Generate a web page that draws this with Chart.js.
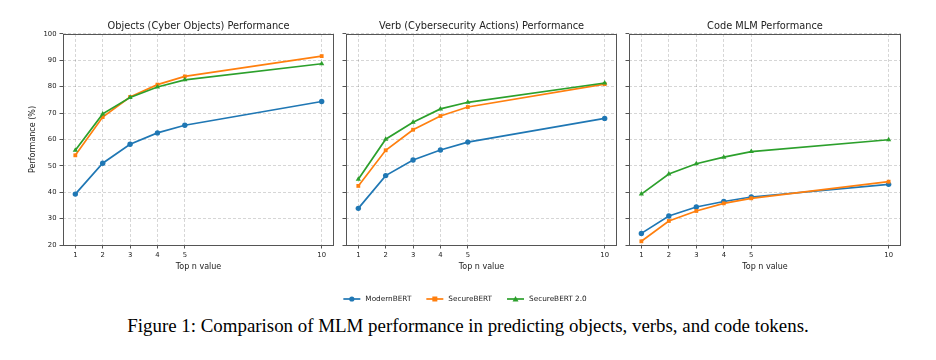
<!DOCTYPE html>
<html>
<head>
<meta charset="utf-8">
<script src="https://cdn.jsdelivr.net/npm/chart.js@4.4.1/dist/chart.umd.min.js"></script>
<style>
  body { margin: 0; background: #fff; width: 936px; height: 360px; position: relative; overflow: hidden; }
  canvas { position: absolute; top: 0; }
  #caption { position: absolute; top: 315px; left: 0; width: 936px; text-align: center;
             font-family: "Liberation Serif"; font-size: 18.9px; color: #000; }
</style>
</head>
<body>
<canvas id="objects" width="340" height="273" style="left:0px"></canvas>
<canvas id="verbs" width="282" height="273" style="left:341px"></canvas>
<canvas id="code" width="283" height="273" style="left:624px"></canvas>
<canvas id="legend" width="936" height="28" style="left:0px; top:285px"></canvas>
<div id="caption">Figure 1: Comparison of MLM performance in predicting objects, verbs, and code tokens.</div>
<script>
const topN = [1, 2, 3, 4, 5, 10];
const yTicks = [20, 30, 40, 50, 60, 70, 80, 90, 100];
const seriesNames = ['ModernBERT', 'SecureBERT', 'SecureBERT 2.0'];

const objModern  = [39.3, 51.0, 58.2, 62.5, 65.4, 74.4];
const objSecure  = [54.0, 68.5, 76.1, 80.8, 83.9, 91.6];
const objSecure2 = [55.9, 69.7, 75.9, 79.9, 82.6, 88.7];

const verbModern  = [33.9, 46.3, 52.2, 56.0, 59.0, 68.0];
const verbSecure  = [42.4, 55.9, 63.7, 68.9, 72.3, 81.0];
const verbSecure2 = [44.9, 60.1, 66.5, 71.6, 74.1, 81.4];

const codeModern  = [24.4, 31.0, 34.4, 36.5, 38.2, 43.0];
const codeSecure  = [21.4, 29.1, 32.9, 35.8, 37.7, 44.0];
const codeSecure2 = [39.3, 46.9, 50.8, 53.3, 55.4, 59.9];

const colors = ['#1f77b4', '#ff7f0e', '#2ca02c'];
const markers = ['circle', 'rect', 'triangle'];

// box round the plot area, like matplotlib spines
const frame = {
  id: 'frame',
  afterDraw(chart) {
    const a = chart.chartArea, c = chart.ctx;
    c.save();
    c.strokeStyle = '#555';
    c.lineWidth = 1;
    c.strokeRect(Math.round(a.left) + 0.5, Math.round(a.top) + 0.5,
                 Math.round(a.right - a.left) - 1, Math.round(a.bottom - a.top));
    c.restore();
  }
};

function makeSets(values) {
  return values.map((v, i) => ({
    label: seriesNames[i],
    data: v.map((y, j) => ({ x: topN[j], y: y })),
    borderColor: colors[i],
    backgroundColor: colors[i],
    borderWidth: 1.7,
    pointStyle: markers[i],
    pointRadius: i == 2 ? 3 : 2.7,
    pointBorderWidth: 0,
    order: 3 - i
  }));
}

function panel(id, title, values, first) {
  new Chart(document.getElementById(id), {
    type: 'line',
    data: { datasets: makeSets(values) },
    plugins: [frame],
    options: {
      responsive: false,
      animation: false,
      layout: { padding: { left: first ? 24 : 0, right: 6, top: 0, bottom: 0 } },
      plugins: {
        legend: { display: false },
        tooltip: { enabled: false },
        title: {
          display: true, text: title, fullSize: false, color: '#222',
          font: { family: 'DejaVu Sans', size: 9.8, weight: 'normal' },
          padding: { top: 20.5, bottom: 1.7 }
        }
      },
      scales: {
        x: {
          type: 'linear', min: 0.55, max: 10.45,
          afterBuildTicks: s => { s.ticks = topN.map(v => ({ value: v })); },
          afterFit: s => { s.height = 28; },
          ticks: { color: '#222', font: { family: 'DejaVu Sans', size: 6.8 }, padding: 3, maxRotation: 0 },
          grid: { color: 'rgba(0,0,0,0.16)', tickColor: '#555', tickLength: 3.5 },
          border: { display: false, dash: [3, 2] },
          title: { display: true, text: 'Top n value', color: '#222',
                   font: { family: 'DejaVu Sans', size: 8 }, padding: { top: 2, bottom: 1 } }
        },
        y: {
          min: 20, max: 100,
          afterBuildTicks: s => { s.ticks = yTicks.map(v => ({ value: v })); },
          afterFit: s => { s.width = first ? 39 : 5; },
          ticks: { display: first, color: '#222', font: { family: 'DejaVu Sans', size: 6.8 }, padding: 3 },
          grid: { color: 'rgba(0,0,0,0.16)', tickColor: '#555', tickLength: 3.5 },
          border: { display: false, dash: [3, 2] },
          title: { display: first, text: 'Performance (%)', color: '#222',
                   font: { family: 'DejaVu Sans', size: 8 }, padding: { top: 4, bottom: 0 } }
        }
      }
    }
  });
}

panel('objects', 'Objects (Cyber Objects) Performance', [objModern, objSecure, objSecure2], true);
panel('verbs', 'Verb (Cybersecurity Actions) Performance', [verbModern, verbSecure, verbSecure2], false);
panel('code', 'Code MLM Performance', [codeModern, codeSecure, codeSecure2], false);

// shared legend under the three panels (line + marker, like matplotlib)
const lg = document.getElementById('legend').getContext('2d');
lg.font = '7.3px "DejaVu Sans"';
lg.textBaseline = 'middle';
const lineLen = 17, textGap = 5, itemGap = 15, cy = 14;
const widths = seriesNames.map(n => lg.measureText(n).width);
let total = widths.reduce((s, w) => s + lineLen + textGap + w, 0) + itemGap * (seriesNames.length - 1);
let x = 465 - total / 2;
seriesNames.forEach((name, i) => {
  lg.strokeStyle = colors[i];
  lg.fillStyle = colors[i];
  lg.lineWidth = 1.7;
  lg.beginPath();
  lg.moveTo(x, cy); lg.lineTo(x + lineLen, cy);
  lg.stroke();
  const mx = x + lineLen / 2;
  lg.beginPath();
  if (markers[i] == 'circle') lg.arc(mx, cy, 2.6, 0, Math.PI * 2);
  else if (markers[i] == 'rect') lg.rect(mx - 2.5, cy - 2.5, 5, 5);
  else { lg.moveTo(mx, cy - 3); lg.lineTo(mx + 3, cy + 2.5); lg.lineTo(mx - 3, cy + 2.5); lg.closePath(); }
  lg.fill();
  lg.fillStyle = '#222';
  lg.fillText(name, x + lineLen + textGap, cy + 0.5);
  x += lineLen + textGap + widths[i] + itemGap;
});
</script>
</body>
</html>
